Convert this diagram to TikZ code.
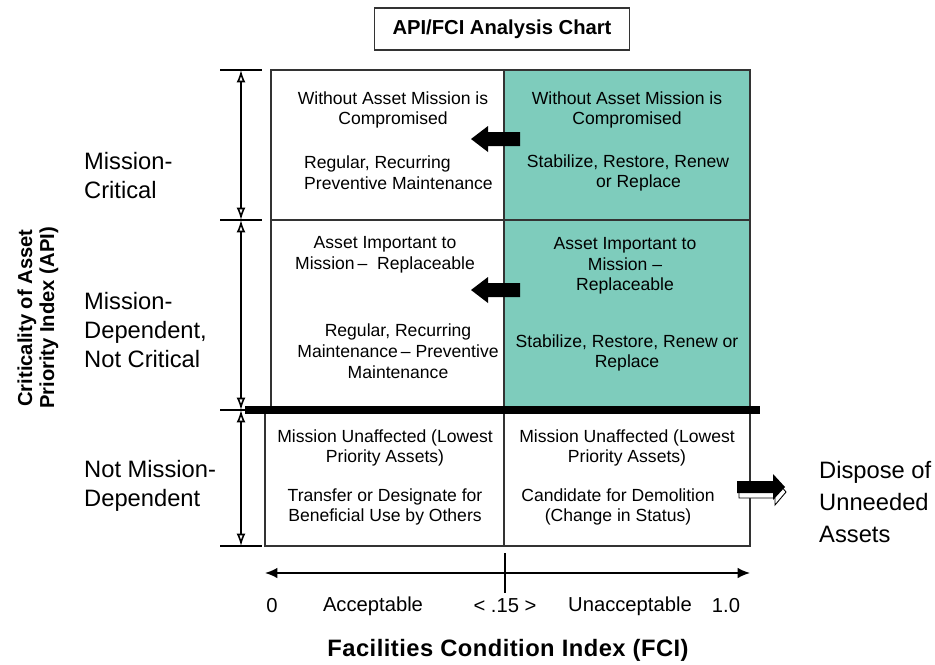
\documentclass[tikz,border=0pt]{standalone}
\usepackage{fontspec}
\setmainfont{Liberation Sans}
\usetikzlibrary{arrows.meta}
\definecolor{apiteal}{RGB}{126,204,188}
\tikzset{
  celltext/.style={align=center,font=\fontsize{10}{11.8}\selectfont},
  sidetext/.style={align=left,anchor=west,font=\fontsize{13.5}{16.5}\selectfont},
  axistext/.style={font=\fontsize{11.5}{13}\selectfont},
  dimarrow/.style={{Latex[open,length=7pt,width=5pt]}-{Latex[open,length=7pt,width=5pt]},line width=0.9pt},
  cellbox/.style={draw=black!80,line width=0.8pt},
}
\begin{document}
\begin{tikzpicture}[x=0.02cm,y=-0.02cm]
    \useasboundingbox (0,0) rectangle (935,664);
    % title
    \node[draw=black!80,line width=0.7pt,minimum width=5.1cm,minimum height=0.84cm,font=\bfseries\fontsize{11.5}{13}\selectfont] (title) at (502,29) {API/FCI Analysis Chart};
    % cells
    \fill[apiteal] (504,70) rectangle (750,408);
    \draw[cellbox] (271,70) rectangle (504,220);
    \draw[cellbox] (504,70) rectangle (750,220);
    \draw[cellbox] (271,220) rectangle (504,408);
    \draw[cellbox] (504,220) rectangle (750,408);
    \draw[cellbox] (265,410) rectangle (504,546);
    \draw[cellbox] (504,410) rectangle (750,546);
    \draw[line width=5pt] (245,410) -- (760,410);
    % cell texts
    \node[celltext] (tlhead) at (393,110) {Without Asset Mission is\\Compromised};
    \node[celltext,align=left,anchor=west] (tlbody) at (298,173) {Regular, Recurring\\Preventive Maintenance};
    \node[celltext] (trhead) at (627,110) {Without Asset Mission is\\Compromised};
    \node[celltext] (trbody) at (628,173) {Stabilize, Restore, Renew\\\hspace*{1.2em}or Replace};
    \node[celltext] (mlhead) at (385,255) {Asset Important to\\Mission\,– \ Replaceable};
    \node[celltext] (mlbody) at (398,351) {Regular, Recurring\\Maintenance\,– Preventive\\Maintenance};
    \node[celltext] (mrhead) at (625,266) {Asset Important to\\Mission –\\Replaceable};
    \node[celltext] (mrbody) at (627,353) {Stabilize, Restore, Renew or\\Replace};
    \node[celltext] (blhead) at (385,448) {Mission Unaffected (Lowest\\Priority Assets)};
    \node[celltext] (blbody) at (385,507) {Transfer or Designate for\\Beneficial Use by Others};
    \node[celltext] (brhead) at (627,448) {Mission Unaffected (Lowest\\Priority Assets)};
    \node[celltext] (brbody) at (618,507) {Candidate for Demolition\\(Change in Status)};
    % block arrows
    \fill[shift={(520,139)}] (0,-7) -- (-32,-7) -- (-32,-13) -- (-49,0) -- (-32,13) -- (-32,7) -- (0,7) -- cycle;
    \fill[shift={(520,290)}] (0,-7) -- (-32,-7) -- (-32,-13) -- (-49,0) -- (-32,13) -- (-32,7) -- (0,7) -- cycle;
    \filldraw[fill=white,draw=black,line width=0.5pt,shift={(739,492)}] (0,-6) -- (36,-6) -- (36,-13) -- (47,0) -- (36,13) -- (36,6) -- (0,6) -- cycle;
    \fill[shift={(737,487)}] (0,-6) -- (36,-6) -- (36,-13) -- (48,0) -- (36,13) -- (36,6) -- (0,6) -- cycle;
    % side dimension
    \coordinate (d0) at (241,70);
    \coordinate (d1) at (241,220);
    \coordinate (d2) at (241,410);
    \coordinate (d3) at (241,546);
    \draw[line width=0.6pt] (220,70) -- (262,70);
    \draw[line width=0.6pt] (220,220) -- (262,220);
    \draw[line width=0.6pt] (220,410) -- (250,410);
    \draw[line width=0.6pt] (220,546) -- (262,546);
    \draw[dimarrow] (d0) -- (d1);
    \draw[dimarrow] (d1) -- (d2);
    \draw[dimarrow] (d2) -- (d3);
    % side labels
    \node[sidetext] (crit) at (78,176) {Mission-\\Critical};
    \node[sidetext] (dep) at (78,330) {Mission-\\Dependent,\\Not Critical};
    \node[sidetext] (notdep) at (78,486) {Not Mission-\\Dependent};
    \node[sidetext,font=\fontsize{13.5}{18}\selectfont] (dispose) at (813,502) {Dispose of\\Unneeded\\Assets};
    \node[rotate=90,align=center,font=\bfseries\fontsize{11.5}{12.5}\selectfont] (api) at (38,318) {Criticality of Asset\\Priority Index (API)};
    % FCI axis
    \coordinate (a0) at (265,573);
    \coordinate (a1) at (750,573);
    \coordinate (t0) at (505,553);
    \coordinate (t1) at (505,593);
    \draw[{Latex[length=7pt,width=6pt]}-{Latex[length=7pt,width=6pt]},line width=1pt] (a0) -- (a1);
    \draw[line width=0.8pt] (t0) -- (t1);
    \node[axistext] (zero) at (272,606) {0};
    \node[axistext] (acc) at (373,606) {Acceptable};
    \node[axistext] (thr) at (505,606) {< .15 >};
    \node[axistext] (unacc) at (630,606) {Unacceptable};
    \node[axistext] (one) at (726,606) {1.0};
    \node[font=\bfseries\fontsize{13.5}{16}\selectfont\addfontfeatures{LetterSpace=2}] (fci) at (508,650) {Facilities Condition Index (FCI)};
  \end{tikzpicture}
\end{document}
